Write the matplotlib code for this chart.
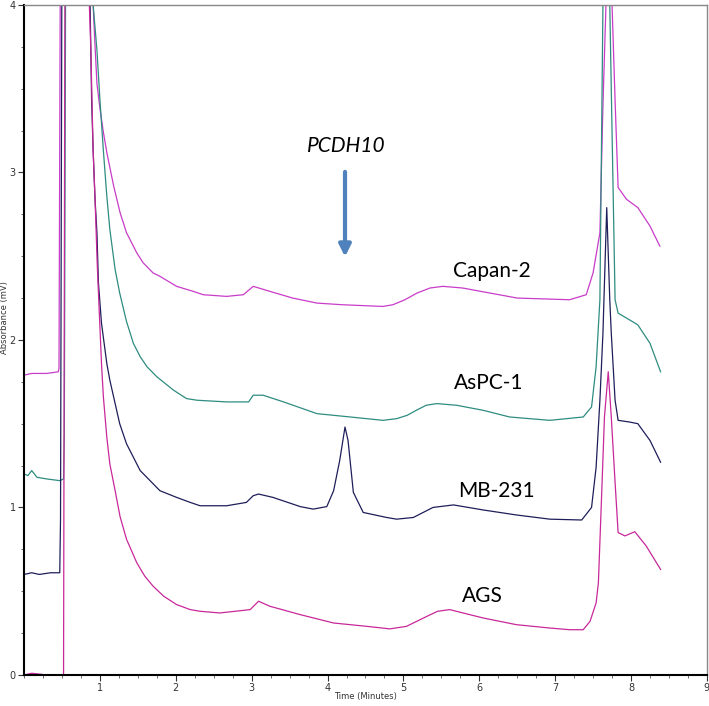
import matplotlib
matplotlib.use("Agg")
import matplotlib.pyplot as plt
from matplotlib.ticker import MultipleLocator

# ---- data (time in minutes, absorbance in mV) ----
capan_t = [0.0, 0.1, 0.3, 0.45, 0.46, 0.48, 0.90, 0.91, 0.93, 0.96, 1.0, 1.045, 1.09, 1.13,
           1.18, 1.265, 1.35, 1.485, 1.57, 1.70, 1.79, 2.01, 2.23, 2.36, 2.67, 2.89, 3.02,
           3.24, 3.54, 3.86, 4.20, 4.73, 4.86, 5.02, 5.18, 5.35, 5.52, 5.78, 6.14, 6.50,
           7.19, 7.41, 7.50, 7.59, 7.63, 7.67, 7.71, 7.75, 7.79, 7.83, 7.94, 8.09, 8.25, 8.38]
capan_y = [1.79, 1.80, 1.80, 1.81, 1.83, 4.6, 4.6, 4.0, 3.80, 3.53, 3.38, 3.24, 3.12, 3.03,
           2.92, 2.76, 2.64, 2.52, 2.46, 2.40, 2.38, 2.32, 2.29, 2.27, 2.26, 2.27, 2.32,
           2.29, 2.25, 2.22, 2.21, 2.20, 2.21, 2.24, 2.28, 2.31, 2.32, 2.31, 2.28, 2.25,
           2.24, 2.27, 2.40, 2.64, 3.40, 4.00, 4.60, 4.00, 3.43, 2.91, 2.84, 2.79, 2.68, 2.56]

aspc_t = [0.0, 0.05, 0.10, 0.17, 0.30, 0.47, 0.52, 0.53, 0.55, 0.90, 0.91, 0.96, 1.0,
          1.045, 1.09, 1.13, 1.20, 1.26, 1.35, 1.44, 1.53, 1.62, 1.75, 1.97, 2.14, 2.28,
          2.67, 2.96, 3.02, 3.15, 3.42, 3.86, 4.30, 4.73, 4.91, 5.05, 5.17, 5.30, 5.44, 5.70,
          6.05, 6.40, 6.93, 7.37, 7.48, 7.54, 7.59, 7.63, 7.675, 7.72, 7.79, 7.83, 7.98,
          8.09, 8.25, 8.39]
aspc_y = [1.20, 1.19, 1.22, 1.18, 1.17, 1.16, 1.17, 1.44, 4.6, 4.6, 4.0, 3.73, 3.43,
          3.13, 2.86, 2.66, 2.42, 2.28, 2.11, 1.98, 1.90, 1.84, 1.78, 1.70, 1.65, 1.64,
          1.63, 1.63, 1.67, 1.67, 1.63, 1.56, 1.54, 1.52, 1.53, 1.55, 1.58, 1.61, 1.62, 1.61,
          1.58, 1.54, 1.52, 1.54, 1.60, 1.84, 2.24, 4.0, 4.6, 4.0, 2.24, 2.16, 2.12,
          2.09, 1.98, 1.81]

mb_t = [0.0, 0.1, 0.2, 0.35, 0.47, 0.48, 0.50, 0.86, 0.87, 0.89, 0.91, 0.935, 0.96, 0.98,
        1.02, 1.09, 1.13, 1.20, 1.26, 1.35, 1.44, 1.53, 1.66, 1.79, 2.01, 2.19, 2.32, 2.67,
        2.93, 3.02, 3.09, 3.28, 3.64, 3.81, 3.99, 4.08, 4.16, 4.23, 4.27, 4.34, 4.47, 4.78,
        4.91, 5.13, 5.26, 5.39, 5.66, 6.05, 6.49, 6.93, 7.35, 7.48, 7.54, 7.59, 7.63, 7.68,
        7.72, 7.74, 7.79, 7.83, 7.98, 8.09, 8.25, 8.39]
mb_y = [0.60, 0.61, 0.60, 0.61, 0.61, 0.93, 4.6, 4.6, 4.0, 3.43, 3.13, 2.84, 2.64, 2.34,
        2.10, 1.86, 1.76, 1.62, 1.50, 1.38, 1.30, 1.22, 1.16, 1.10, 1.06, 1.03, 1.01, 1.01,
        1.03, 1.07, 1.08, 1.06, 1.005, 0.99, 1.005, 1.10, 1.28, 1.48, 1.40, 1.09, 0.97, 0.94,
        0.93, 0.94, 0.97, 1.00, 1.015, 0.985, 0.955, 0.93, 0.925, 1.0, 1.24, 1.64, 2.04, 2.79,
        2.24, 2.04, 1.64, 1.52, 1.51, 1.50, 1.40, 1.27]

ags_t = [0.0, 0.1, 0.3, 0.52, 0.54, 0.85, 0.86, 0.88, 0.91, 0.935, 0.965, 1.0, 1.02, 1.045,
         1.09, 1.13, 1.20, 1.265, 1.35, 1.485, 1.59, 1.70, 1.84, 2.01, 2.19, 2.32, 2.58,
         2.98, 3.09, 3.24, 3.64, 4.08, 4.52, 4.82, 5.04, 5.31, 5.45, 5.61, 6.05, 6.49, 6.93,
         7.19, 7.37, 7.46, 7.54, 7.57, 7.61, 7.65, 7.70, 7.74, 7.79, 7.83, 7.92, 8.05, 8.20,
         8.39]
ags_y = [0.0, 0.01, 0.0, 0.0, 4.6, 4.6, 4.0, 3.73, 3.13, 2.84, 2.44, 2.07, 1.86, 1.66,
         1.42, 1.26, 1.10, 0.945, 0.81, 0.67, 0.59, 0.53, 0.47, 0.42, 0.39, 0.38, 0.37,
         0.39, 0.44, 0.41, 0.36, 0.31, 0.29, 0.275, 0.29, 0.35, 0.38, 0.39, 0.34, 0.30, 0.28,
         0.27, 0.27, 0.32, 0.43, 0.55, 1.04, 1.54, 1.81, 1.54, 1.15, 0.85, 0.83, 0.855, 0.77,
         0.63]

sample_names = ["Capan-2", "AsPC-1", "MB-231", "AGS"]
label_pos = [(6.17, 2.41), (6.12, 1.74), (6.23, 1.10), (6.04, 0.47)]

fig = plt.figure(figsize=(7.09, 7.06), dpi=100)
ax = fig.add_axes([0.034, 0.044, 0.963, 0.949])

ax.plot(capan_t, capan_y, color="#C83CC8", lw=0.9)
ax.plot(aspc_t, aspc_y, color="#2E8C80", lw=0.9)
ax.plot(mb_t, mb_y, color="#1E1E5A", lw=0.9)
ax.plot(ags_t, ags_y, color="#C8289A", lw=0.9)

for name, (x, y) in zip(sample_names, label_pos):
    ax.text(x, y, name, ha="center", va="center", fontsize=15, family="Lato", color="black")

# PCDH10 marker
ax.text(4.25, 3.16, "PCDH10", ha="center", va="center", fontsize=15, family="Lato",
        style="italic", color="black")
ax.annotate("", xy=(4.23, 2.48), xytext=(4.23, 3.02),
            arrowprops=dict(arrowstyle="-|>,head_length=0.7,head_width=0.35",
                            color="#4F81BD", lw=3))

ax.set_xlim(0, 9)
ax.set_ylim(0, 4)
ax.xaxis.set_major_locator(MultipleLocator(1))
ax.xaxis.set_minor_locator(MultipleLocator(0.25))
ax.yaxis.set_major_locator(MultipleLocator(1))
ax.yaxis.set_minor_locator(MultipleLocator(0.25))
ax.set_xticks(range(1, 10))
ax.set_xticklabels([str(i) for i in range(1, 10)])
ax.tick_params(which="major", length=4, width=0.8, labelsize=7, colors="#333333", pad=2)
ax.tick_params(which="minor", length=2.5, width=0.6, colors="#555555")

for side in ["left", "bottom"]:
    ax.spines[side].set_color("black")
    ax.spines[side].set_linewidth(1.5)
for side in ["top", "right"]:
    ax.spines[side].set_color("#888888")
    ax.spines[side].set_linewidth(1.0)

fig.text(0.515, 0.013, "Time (Minutes)", ha="center", va="center", fontsize=6, color="#333333")
fig.text(0.007, 0.55, "Absorbance (mV)", ha="center", va="center", rotation=90,
         fontsize=6, color="#333333")

fig.savefig("out.png", dpi=100)
